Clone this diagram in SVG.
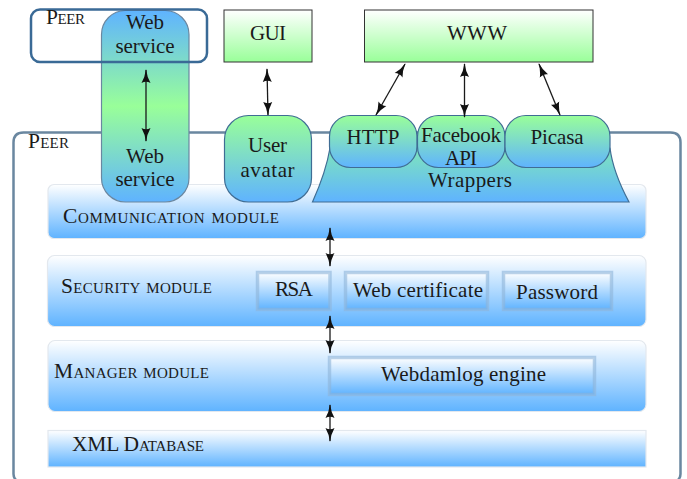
<svg xmlns="http://www.w3.org/2000/svg" width="687" height="479" viewBox="0 0 687 479">
<style>
text{font-family:"Liberation Serif","Times New Roman",serif;font-size:21px;fill:#1a1a1a;text-anchor:middle}
.sc{font-variant:small-caps;text-anchor:start;font-size:21.500px}
.mod{stroke:#e3e8ee;stroke-width:1.2;fill:url(#mod)}
.inner{stroke:#8db4d8;stroke-opacity:.6;stroke-width:3.500;fill:url(#mod)}
.box{stroke:#333;stroke-width:1;fill:url(#box)}
.comp{stroke:#3f6d94;stroke-width:1.2;fill:url(#comp)}
.arr{stroke:#1a1a1a;stroke-width:1.3;fill:none;marker-start:url(#ah);marker-end:url(#ah)}
</style>
<defs>
<linearGradient id="mod" x1="0" y1="0" x2="0" y2="1"><stop offset="0" stop-color="#fff"/><stop offset="1" stop-color="#5fb3ff"/></linearGradient>
<linearGradient id="box" x1="0" y1="0" x2="0" y2="1"><stop offset="0" stop-color="#fff"/><stop offset="1" stop-color="#99ff99"/></linearGradient>
<linearGradient id="comp" x1="0" y1="0" x2="0" y2="1"><stop offset="0" stop-color="#99ff99"/><stop offset="1" stop-color="#5fb3ff"/></linearGradient>
<linearGradient id="wrap" x1="0" y1="0" x2="0" y2="1"><stop offset="0" stop-color="#7fe6bb"/><stop offset="1" stop-color="#5fb3ff"/></linearGradient>
<linearGradient id="ws" x1="0" y1="0" x2="0" y2="1"><stop offset="0" stop-color="#5fb3ff"/><stop offset=".5" stop-color="#99ff99"/><stop offset="1" stop-color="#5fb3ff"/></linearGradient>
<marker id="ah" viewBox="0 0 14 10" refX="13" refY="5" markerWidth="14" markerHeight="10" markerUnits="userSpaceOnUse" orient="auto-start-reverse"><path d="M0,0.500 Q6,4 14,5 Q6,6 0,9.500 Q2.500,5 0,0.500Z" fill="#111"/></marker>
</defs>
<g id="peer-local"><path d="M17,481 Q13.500,478 13.500,474 V142.500 Q13.500,132.500 23.500,132.500 H670.500 Q680.500,132.500 680.500,142.500 V474 Q680.500,478 677,481" fill="none" stroke="#6a87a0" stroke-width="2.500"/><text class="sc" x="28" y="148" textLength="41">Peer</text></g>
<g id="communication-module"><rect class="mod" x="48" y="184.500" width="598" height="54" rx="6"/><text class="sc" x="63" y="223" textLength="216">Communication module</text></g>
<g id="security-module"><rect class="mod" x="47.500" y="255.500" width="598.500" height="71" rx="7"/><text class="sc" x="61" y="293" textLength="151">Security module</text></g>
<g id="rsa"><rect class="inner" x="257.500" y="272.500" width="72.500" height="37"/><text x="294" y="296" textLength="38">RSA</text></g>
<g id="web-certificate"><rect class="inner" x="345.500" y="272.500" width="142" height="37"/><text x="418" y="297" textLength="130">Web certificate</text></g>
<g id="password"><rect class="inner" x="503.500" y="272.500" width="108" height="37"/><text x="557" y="299" textLength="82">Password</text></g>
<g id="manager-module"><rect class="mod" x="48" y="340.500" width="598" height="71" rx="7"/><text class="sc" x="54" y="377.500" textLength="155">Manager module</text></g>
<g id="webdamlog-engine"><rect class="inner" x="329.500" y="357.500" width="265" height="37"/><text x="463.500" y="381" textLength="165">Webdamlog engine</text></g>
<g id="xml-database"><rect class="mod" x="48" y="430.500" width="598" height="36.500"/><text class="sc" x="72" y="451" textLength="132">XML Database</text></g>
<g id="web-service"><rect x="101.500" y="10.500" width="87.500" height="191.500" rx="24" fill="url(#ws)" stroke="#6a87a0" stroke-width="1.200"/><text x="145" y="29" textLength="38">Web</text><text x="145" y="53" textLength="59">service</text><text x="145" y="162.500" textLength="38">Web</text><text x="145" y="186" textLength="59">service</text></g>
<g id="gui"><rect class="box" x="224" y="10" width="88" height="52"/><text x="268" y="40" textLength="36">GUI</text></g>
<g id="www"><rect class="box" x="364.500" y="10" width="228.500" height="52"/><text x="477" y="40" textLength="60">WWW</text></g>
<g id="user-avatar"><rect class="comp" x="224.500" y="115.500" width="87" height="86.500" rx="24"/><text x="267.500" y="152" textLength="39">User</text><text x="267.500" y="176.500" textLength="54">avatar</text></g>
<g id="wrappers"><path class="comp" d="M312.500,202 Q326,172 330,148 H610 Q613,172 629,202Z" style="fill:url(#wrap)"/><text x="470" y="186.500" textLength="84">Wrappers</text></g>
<g id="http"><rect class="comp" x="329.500" y="115.500" width="87.500" height="52" rx="21"/><text x="373" y="144" textLength="53">HTTP</text></g>
<g id="facebook-api"><rect class="comp" x="417.500" y="115.500" width="87.500" height="52" rx="21"/><text x="461" y="142" textLength="80">Facebook</text><text x="461" y="165" textLength="32">API</text></g>
<g id="picasa"><rect class="comp" x="505" y="115.500" width="105" height="52" rx="21"/><text x="557" y="144" textLength="53">Picasa</text></g>
<g id="peer-remote"><rect x="31" y="9.500" width="176" height="52.500" rx="9" fill="none" stroke="#3a6a96" stroke-width="2.500"/><text class="sc" x="46" y="24" textLength="39">Peer</text></g>
<g id="connectors">
<line class="arr" x1="146" y1="70" x2="146" y2="141"/>
<line class="arr" x1="267" y1="69" x2="268" y2="115"/>
<line class="arr" x1="405" y1="64" x2="376" y2="115"/>
<line class="arr" x1="464.500" y1="64" x2="464.500" y2="117"/>
<line class="arr" x1="539" y1="64" x2="560" y2="115"/>
<line class="arr" x1="330" y1="228" x2="330" y2="266"/>
<line class="arr" x1="330" y1="316" x2="330" y2="353"/>
<line class="arr" x1="330" y1="405" x2="330" y2="441"/>
</g>
</svg>
